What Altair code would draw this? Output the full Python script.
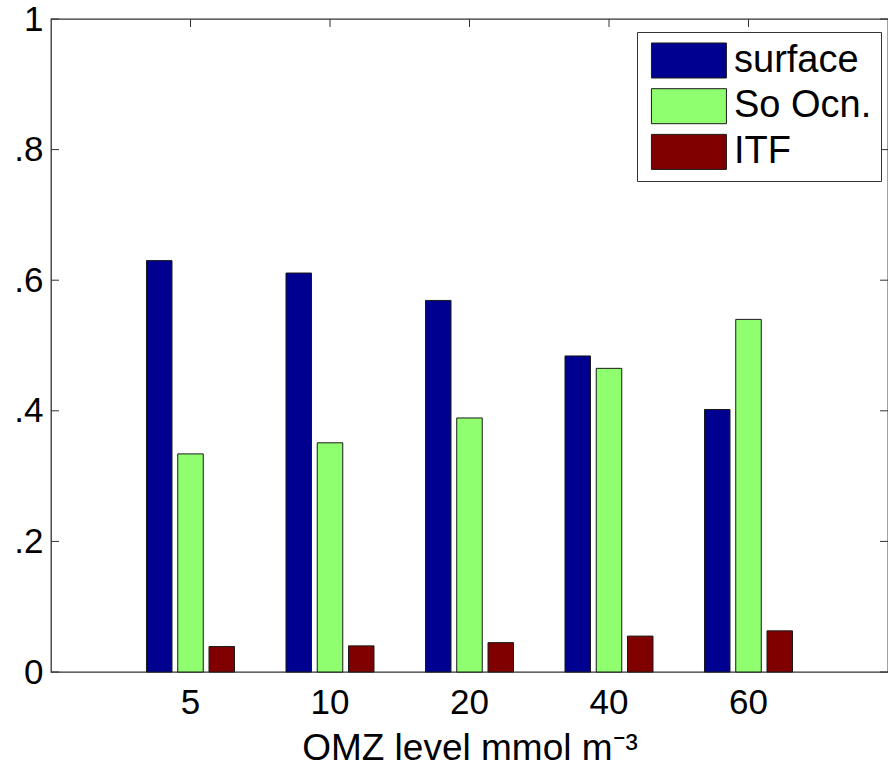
import altair as alt
import pandas as pd

categories = ["5", "10", "20", "40", "60"]
series = ["surface", "So Ocn.", "ITF"]
surface = [0.630, 0.611, 0.569, 0.484, 0.402]
so_ocn = [0.334, 0.351, 0.389, 0.465, 0.540]
itf = [0.039, 0.040, 0.045, 0.055, 0.063]
colors = ["#000090", "#8fff70", "#800000"]
y_ticks = [0, 0.2, 0.4, 0.6, 0.8, 1.0]

rows = []
for name, vals in zip(series, [surface, so_ocn, itf]):
    for c, v in zip(categories, vals):
        rows.append({"omz": c, "series": name, "value": v})
df = pd.DataFrame(rows)
ydf = pd.DataFrame({"value": y_ticks})
xdf = pd.DataFrame({"omz": categories})

W, H = 837, 653
FONT = "Liberation Sans"
AX = "#333333"

x_scale = alt.Scale(domain=categories, paddingInner=0.369, paddingOuter=0.6845)
y_scale = alt.Scale(domain=[0, 1], nice=False, zero=True)

x_axis = alt.Axis(labelAngle=0, ticks=False, domain=False, grid=False,
                  labelFont=FONT, labelFontSize=35, labelColor="black",
                  labelPadding=13, title="OMZ level mmol m\u207b\u00b3",
                  titleFont=FONT, titleFontSize=37, titleFontWeight="normal",
                  titleColor="black", titlePadding=10)
y_axis = alt.Axis(values=y_ticks, ticks=False, domain=False, grid=False, title=None,
                  labelFont=FONT, labelFontSize=35, labelColor="black", labelPadding=8,
                  labelExpr="datum.value == 0 ? '0' : datum.value == 1 ? '1' : replace(format(datum.value, '.1f'), '0.', '.')")

bars = alt.Chart(df).mark_bar(stroke="#1a1a1a", strokeWidth=1, opacity=1).encode(
    x=alt.X("omz:N", scale=x_scale, sort=categories, axis=x_axis),
    xOffset=alt.XOffset("series:N", sort=series,
                        scale=alt.Scale(domain=series, paddingInner=0.184, paddingOuter=0)),
    y=alt.Y("value:Q", scale=y_scale, axis=y_axis),
    color=alt.Color("series:N", sort=series,
                    scale=alt.Scale(domain=series, range=colors),
                    legend=alt.Legend(orient="none", legendX=586, legendY=13, title=None,
                                      symbolType="M-0.75,-0.934H3.25V0.934H-0.75Z", symbolSize=1406,
                                      symbolStrokeColor="#1a1a1a", symbolStrokeWidth=1,
                                      symbolOpacity=1, labelFont=FONT, labelFontSize=38,
                                      labelColor="black", labelOffset=49, padding=9,
                                      strokeColor=AX, fillColor="white", rowPadding=4.7,
                                      labelLimit=400)),
)

left_ticks = alt.Chart(ydf).mark_rule(color=AX, strokeWidth=1).encode(
    y=alt.Y("value:Q", scale=y_scale, axis=y_axis),
    x=alt.value(0), x2=alt.value(8),
)
right_ticks = alt.Chart(ydf).mark_rule(color=AX, strokeWidth=1).encode(
    y=alt.Y("value:Q", scale=y_scale, axis=y_axis),
    x=alt.value(W - 8), x2=alt.value(W),
)
top_ticks = alt.Chart(xdf).mark_rule(color=AX, strokeWidth=1).encode(
    x=alt.X("omz:N", scale=x_scale, sort=categories, axis=x_axis),
    y=alt.value(0), y2=alt.value(8),
)

chart = alt.layer(bars, left_ticks, right_ticks, top_ticks).properties(
    width=W, height=H,
    padding={"left": 51, "top": 19, "right": 0, "bottom": 98},
    autosize=alt.AutoSizeParams(type="none"),
    background="white",
).configure_view(stroke=AX, strokeWidth=1.3)

chart.save("out.html", embed_options={"renderer": "svg", "actions": False})
